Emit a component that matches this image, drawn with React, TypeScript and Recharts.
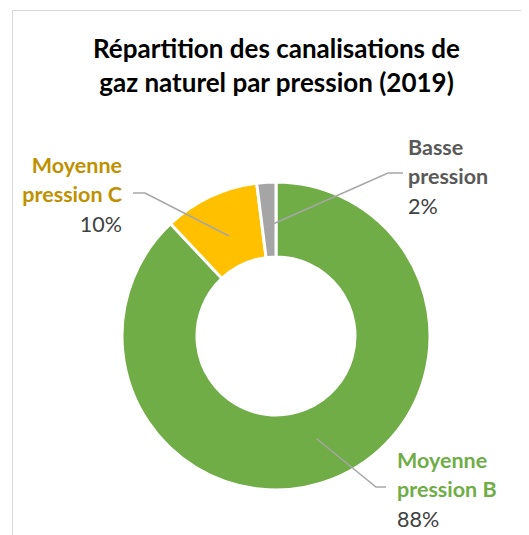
import React from "react";
import { Cell, Pie, PieChart } from "recharts";

const categories = ["Moyenne pression B", "Moyenne pression C", "Basse pression"];
const shortNames = [
    ["Moyenne", "pression B"],
    ["Moyenne", "pression C"],
    ["Basse", "pression"],
];
const shares = [88, 10, 2];

const sliceColors = ["#70AD47", "#FFC000", "#A5A5A5"];
const nameColors = ["#70AD47", "#BF9000", "#595959"];

// where each label sits, relative to the pie centre
const labelLayout = [
    { elbow: [100, 151], end: [110, 151], textX: 121, textY: 124, anchor: "start" },
    { elbow: [-131, -143], end: [-143, -143], textX: -154, textY: -171, anchor: "end" },
    { elbow: [112, -163], end: [127, -163], textX: 132, textY: -189, anchor: "start" },
];

const data = categories.map((name, i) => ({ name, value: shares[i] }));

const RAD = Math.PI / 180;

function renderLabel(props: any) {
    const { cx, cy, midAngle, innerRadius, outerRadius, index, percent } = props;
    const layout = labelLayout[index];
    const r = (innerRadius + outerRadius) / 2 - 6;
    const sx = cx + r * Math.cos(-midAngle * RAD);
    const sy = cy + r * Math.sin(-midAngle * RAD);
    const ex = cx + layout.elbow[0];
    const ey = cy + layout.elbow[1];
    const tx = cx + layout.textX;
    const ty = cy + layout.textY;
    return (
        <g key={`lbl-${index}`}>
            <polyline
                points={`${sx},${sy} ${ex},${ey} ${cx + layout.end[0]},${cy + layout.end[1]}`}
                fill="none"
                stroke="#A6A6A6"
                strokeWidth={1.5}
            />
            <text
                x={tx}
                y={ty}
                textAnchor={layout.anchor}
                dominantBaseline="central"
                fontFamily="Lato, sans-serif"
                fontSize={21.5}
            >
                <tspan x={tx} fontWeight="bold" fill={nameColors[index]}>
                    {shortNames[index][0]}
                </tspan>
                <tspan x={tx} dy={29} fontWeight="bold" fill={nameColors[index]}>
                    {shortNames[index][1]}
                </tspan>
                <tspan x={tx} dy={30} fill="#404040">
                    {`${Math.round(percent * 100)}%`}
                </tspan>
            </text>
        </g>
    );
}

export default function App() {
    return (
        <div
            style={{
                position: "relative",
                width: 520,
                height: 525,
                marginLeft: 4,
                marginTop: 2,
                borderTop: "1.5px solid #D9D9D9",
                borderLeft: "1.5px solid #D9D9D9",
                background: "#fff",
            }}
        >
            <div
                style={{
                    position: "absolute",
                    left: 0,
                    top: 20,
                    width: 527,
                    textAlign: "center",
                    fontFamily: "Lato, sans-serif",
                    fontWeight: "bold",
                    fontSize: 26,
                    lineHeight: "34px",
                    color: "#000",
                }}
            >
                Répartition des canalisations de
                <br />
                gaz naturel par pression (2019)
            </div>
            <div style={{ position: "absolute", left: 0, top: 0 }}>
                <PieChart width={520} height={525}>
                    <Pie
                        data={data}
                        dataKey="value"
                        nameKey="name"
                        cx={258}
                        cy={320}
                        innerRadius={79}
                        outerRadius={154}
                        startAngle={90}
                        endAngle={-270}
                        stroke="#FFFFFF"
                        strokeWidth={3}
                        label={renderLabel}
                        labelLine={false}
                        isAnimationActive={false}
                    >
                        {data.map((d, i) => (
                            <Cell key={d.name} fill={sliceColors[i]} />
                        ))}
                    </Pie>
                </PieChart>
            </div>
        </div>
    );
}
